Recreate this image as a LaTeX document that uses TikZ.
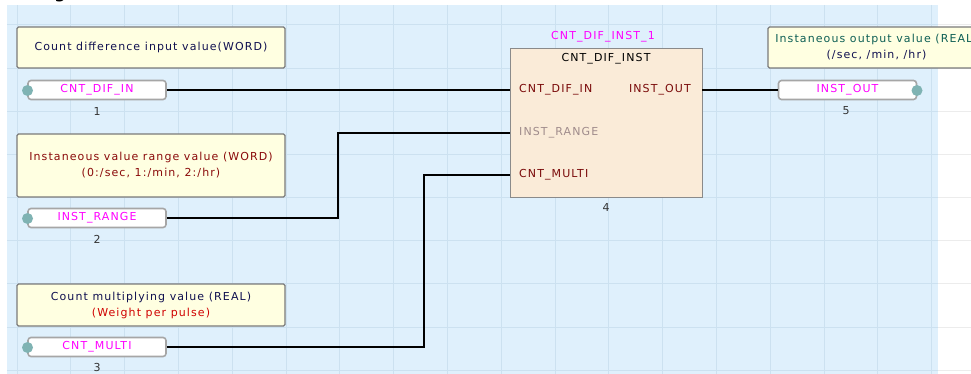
\documentclass[tikz,border=0pt]{standalone}
\usepackage{fontspec}
\newfontfamily\uifont{DejaVu Sans}[LetterSpace=10]
\newfontfamily\headfont{DejaVu Sans Bold}

\definecolor{canvas}{HTML}{DFF0FC}
\definecolor{gridline}{HTML}{CCE1F0}
\definecolor{gridgrey}{HTML}{ECECEC}
\definecolor{noteyellow}{HTML}{FFFFE1}
\definecolor{noteedge}{HTML}{7A7A7A}
\definecolor{varedge}{HTML}{A6A6A6}
\definecolor{fbfill}{HTML}{FAEBD8}
\definecolor{fbedge}{HTML}{8A8A8A}
\definecolor{pinred}{HTML}{7A0A0A}
\definecolor{pingrey}{HTML}{A08C8C}
\definecolor{varmag}{HTML}{FF00FF}
\definecolor{dotteal}{HTML}{7FB3B3}
\definecolor{navytext}{HTML}{101050}
\definecolor{darkred}{HTML}{8A0A0A}
\definecolor{brightred}{HTML}{D00000}
\definecolor{tealtext}{HTML}{0E5F55}
\definecolor{numgrey}{HTML}{333333}

\begin{document}
\begin{tikzpicture}[x=1pt,y=-1pt,
  every node/.style={font=\uifont\fontsize{11}{16}\selectfont},
  note/.style={draw=noteedge, line width=1.2pt, fill=noteyellow,
    rounded corners=1.5pt, inner sep=0pt, align=center,
    minimum width=268pt},
  varbox/.style={draw=varedge, line width=1.6pt, fill=white,
    rounded corners=3pt, inner sep=0pt, minimum width=138pt,
    minimum height=19pt, text=varmag},
  portdot/.style={circle, fill=dotteal, inner sep=0pt, minimum size=11pt},
  varnum/.style={text=numgrey},
  fblock/.style={draw=fbedge, line width=1.2pt, fill=fbfill,
    inner sep=0pt, minimum width=192pt, minimum height=149pt,
    anchor=north west},
  pin/.style={text=pinred, inner sep=0pt},
  wire/.style={line width=2.8pt, black}]

\useasboundingbox (0,0) rectangle (971,374);

% canvas and grid
\fill[canvas] (7,5) rectangle (938,374);
\foreach \k in {0,...,8}
  \draw[gridgrey, line width=1pt] (938,25+43.15*\k) -- (971,25+43.15*\k);
\foreach \k in {0,...,17}
  \draw[gridline, line width=1pt] (17+53.8*\k,5) -- (17+53.8*\k,374);
\foreach \k in {0,...,8}
  \draw[gridline, line width=1pt] (7,25+43.15*\k) -- (938,25+43.15*\k);

% heading fragment at the top edge
\begin{scope}
\clip (0,0) rectangle (971,374);
\node[anchor=base, inner sep=0pt, font=\headfont\fontsize{16}{16}\selectfont] (head) at (60,-1) {g};
\end{scope}

% comments
\node[note, minimum height=41pt] (n1) at (151,47.5)
  {\textcolor{navytext}{Count difference input value(WORD)}};
\node[note, minimum height=63pt] (n2) at (151,165.5)
  {\textcolor{darkred}{Instaneous value range value (WORD)}\\
   \textcolor{darkred}{(0:/sec, 1:/min, 2:/hr)}};
\node[note, minimum height=42pt] (n3) at (151,305)
  {\textcolor{navytext}{Count multiplying value (REAL)}\\
   \textcolor{brightred}{(Weight per pulse)}};
\begin{scope}
\clip (0,0) rectangle (971,374);
\node[note, minimum width=217pt, minimum height=41pt] (n5) at (876.5,47.5)
  {\textcolor{tealtext}{Instaneous output value (REAL)}\\
   \textcolor{navytext}{(/sec, /min, /hr)}};
\end{scope}

% input and output variables
\node[varbox] (v1) at (97,90) {CNT\_DIF\_IN};
\node[portdot] (d1) at (27.5,90.5) {};
\node[varnum] (m1) at (97,111) {1};

\node[varbox] (v2) at (97,218) {INST\_RANGE};
\node[portdot] (d2) at (27.5,218.5) {};
\node[varnum] (m2) at (97,239) {2};

\node[varbox] (v3) at (97,347) {CNT\_MULTI};
\node[portdot] (d3) at (27.5,347.5) {};
\node[varnum] (m3) at (97,367) {3};

\node[varbox] (v5) at (847.5,90) {INST\_OUT};
\node[portdot] (d5) at (917,90.5) {};
\node[varnum] (m5) at (846,111) {5};

% function block
\node[fblock] (fb) at (510,48) {};
\node[text=varmag] (inst) at (603,37) {CNT\_DIF\_INST\_1};
\node[text=black] (fbname) at (606,59) {CNT\_DIF\_INST};
\node[varnum] (m4) at (606,207) {4};
\node[pin, anchor=west] (p1) at (519,90) {CNT\_DIF\_IN};
\node[pin, anchor=west, text=pingrey] (p2) at (519,133) {INST\_RANGE};
\node[pin, anchor=west] (p3) at (519,175) {CNT\_MULTI};
\node[pin, anchor=east] (po) at (691,90) {INST\_OUT};

% wire ends on the block edge and wire bends
\coordinate (in1) at (510,90);
\coordinate (in2) at (510,133);
\coordinate (in3) at (510,175);
\coordinate (out1) at (702,90);
\coordinate (j2) at (338,0);
\coordinate (j3) at (424,0);

% wiring
\draw[wire] (v1.east) -- (in1);
\draw[wire] (v2.east) -- (v2.east -| j2) -- (j2 |- in2) -- (in2);
\draw[wire] (v3.east) -- (v3.east -| j3) -- (j3 |- in3) -- (in3);
\draw[wire] (out1) -- (v5.west);
\end{tikzpicture}
\end{document}
